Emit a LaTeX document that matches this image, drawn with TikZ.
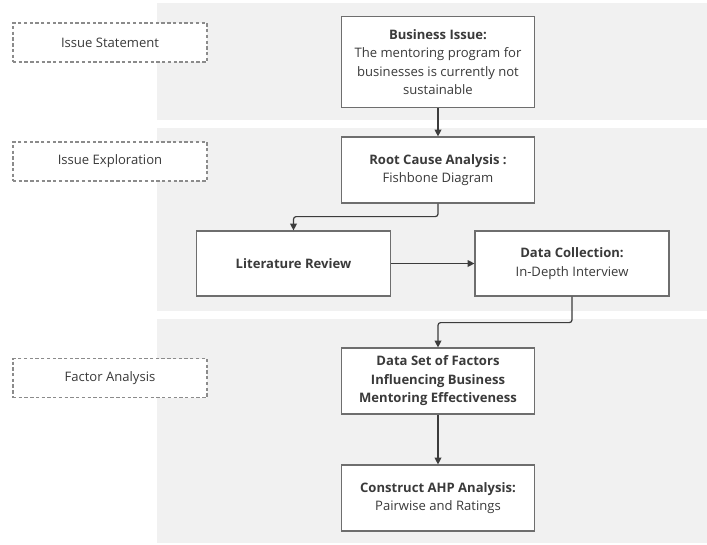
\documentclass[tikz,border=0pt]{standalone}
\usepackage{fontspec}
\setmainfont{Open Sans}
\usetikzlibrary{arrows.meta}
\definecolor{bandgray}{HTML}{F1F1F1}
\definecolor{boxline}{HTML}{6E6E6E}
\definecolor{txt}{HTML}{3A3A3A}
\definecolor{arrowc}{HTML}{3C3C3C}
\tikzset{
  procbox/.style={draw=boxline, line width=0.9pt, fill=white, inner sep=0pt, align=center,
    text=txt, font=\fontsize{9.8}{13.9}\selectfont, minimum width=144.75pt},
  stagebox/.style={draw=boxline!80, dashed, dash pattern=on 2.5pt off 1.8pt, line width=0.8pt, fill=white,
    inner sep=0pt, align=center, text=txt, font=\fontsize{9.8}{13.9}\selectfont,
    minimum width=145.5pt, minimum height=29.25pt},
  flow/.style={draw=arrowc, line width=0.9pt, rounded corners=2pt, -{Triangle[length=5pt,width=5pt]}}
}
\begin{document}
\begin{tikzpicture}[x=0.75pt,y=-0.75pt]
\useasboundingbox (0,0) rectangle (707,544);
% bands
\fill[bandgray] (157,3) rectangle (707,120);
\fill[bandgray] (157,128) rectangle (707,311);
\fill[bandgray] (157,319) rectangle (707,543);
% stage labels
\node[stagebox] (st1) at (110,42.5) {Issue Statement};
\node[stagebox] (st2) at (110,161.5) {Issue Exploration};
\node[stagebox] (st3) at (110,378) {Factor Analysis};
% process boxes
\node[procbox, minimum height=68.25pt] (biz) at (438,62)
  {\textbf{Business Issue:}\\The mentoring program for\\businesses is currently not\\sustainable};
\node[procbox, minimum height=49.5pt] (root) at (438,170)
  {\textbf{Root Cause Analysis :}\\Fishbone Diagram};
\node[procbox, minimum width=145.5pt, minimum height=48.75pt] (lit) at (293.5,263.5)
  {\textbf{Literature Review}};
\node[procbox, minimum width=145.5pt, minimum height=48.75pt] (dc) at (572,263.5)
  {\textbf{Data Collection:}\\In-Depth Interview};
\node[procbox, minimum height=49.5pt] (ds) at (438,381)
  {\textbf{Data Set of Factors}\\\textbf{Influencing Business}\\\textbf{Mentoring Effectiveness}};
\node[procbox, minimum height=49.5pt] (ahp) at (438,498)
  {\textbf{Construct AHP Analysis:}\\Pairwise and Ratings};
% connectors
\draw[flow] (biz.south) -- (root.north);
\draw[flow] (root.south) -- ++(0,13) -| (lit.north);
\draw[flow] (lit.east) -- (dc.west);
\draw[flow] (dc.south) -- ++(0,26) -| (ds.north);
\draw[flow] (ds.south) -- (ahp.north);
\end{tikzpicture}
\end{document}
